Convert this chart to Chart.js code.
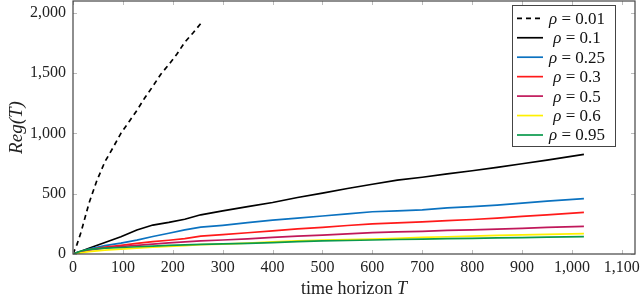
<!DOCTYPE html>
<html>
<head>
<meta charset="utf-8">
<script src="https://cdn.jsdelivr.net/npm/chart.js@4/dist/chart.umd.min.js"></script>
<style>
  html, body { margin: 0; padding: 0; background: #fff; }
  #wrap { width: 640px; height: 298px; }
</style>
</head>
<body>
<div id="wrap"><canvas id="regretChart"></canvas></div>
<script>
// ── Data ──────────────────────────────────────────────────────────────────
const T_DASH   = [0, 8, 16, 32, 48, 64, 80, 96, 112, 128, 144, 160, 176, 192, 208, 224, 240, 256];
const RHO_001  = [0, 80, 180, 420, 610, 765, 880, 1000, 1095, 1190, 1295, 1390, 1490, 1570, 1655, 1755, 1830, 1910];

const T        = [0, 16, 32, 64, 96, 128, 160, 192, 224, 256, 300, 350, 400, 450, 500, 550, 600, 650, 700, 750, 800, 850, 900, 950, 1024];
const RHO_01   = [0, 22, 48, 95, 143, 199, 240, 262, 288, 325, 358, 392, 427, 468, 505, 543, 578, 612, 636, 664, 690, 718, 748, 778, 825];
const RHO_025  = [0, 20, 40, 70, 90, 115, 145, 172, 200, 222, 238, 260, 280, 297, 315, 333, 350, 358, 366, 382, 392, 405, 422, 438, 459];
const RHO_03   = [0, 18, 35, 58, 72, 88, 102, 114, 128, 148, 160, 176, 192, 208, 221, 236, 249, 258, 267, 276, 286, 298, 312, 325, 345];
const RHO_05   = [0, 17, 32, 50, 62, 72, 82, 92, 100, 108, 116, 126, 138, 148, 157, 167, 177, 183, 188, 195, 200, 207, 213, 220, 229];
const RHO_06   = [0, 10, 20, 32, 40, 48, 56, 64, 70, 78, 82, 90, 100, 108, 116, 120, 124, 130, 137, 143, 148, 154, 158, 163, 169];
const RHO_095  = [0, 25, 38, 48, 54, 60, 66, 72, 76, 80, 84, 88, 95, 102, 108, 112, 116, 120, 123, 127, 130, 133, 136, 140, 144];

const LABELS   = ['0.01', '0.1', '0.25', '0.3', '0.5', '0.6', '0.95'];
const X_TICKS  = [0, 100, 200, 300, 400, 500, 600, 700, 800, 900, 1000, 1100];
const Y_TICKS  = [0, 500, 1000, 1500, 2000];
const X_MAX    = 1126.4;   // pgfplots enlarged limit (1024 * 1.1)
const Y_MAX    = 2097;

// ── Styling ───────────────────────────────────────────────────────────────
const FONT   = '"Liberation Serif", "Times New Roman", serif';
const FRAME  = '#444';
const COLORS = ['#000000', '#000000', '#0b72c0', '#ff1a1a', '#c0185a', '#fff000', '#0a9a4c'];

const xy = (xs, ys) => xs.map((x, i) => ({ x: x, y: ys[i] }));
const series = [
    xy(T_DASH, RHO_001), xy(T, RHO_01), xy(T, RHO_025), xy(T, RHO_03),
    xy(T, RHO_05), xy(T, RHO_06), xy(T, RHO_095),
];

const datasets = series.map((data, i) => ({
    label:       'ρ = ' + LABELS[i],
    data:        data,
    borderColor: COLORS[i],
    borderWidth: 1.7,
    borderDash:  i === 0 ? [5, 4] : [],
    pointRadius: 0,
    tension:     0,
    fill:        false,
    order:       series.length - i,
}));

// frame, inward tick marks, axis titles and the boxed legend
const decorations = {
    id: 'decorations',
    afterDraw(chart) {
        const { ctx, chartArea: a, scales: { x, y } } = chart;
        ctx.save();

        ctx.strokeStyle = '#bbb';
        ctx.lineWidth = 1;
        ctx.beginPath();
        x.ticks.forEach(t => {
            const px = Math.round(x.getPixelForValue(t.value)) + 0.5;
            ctx.moveTo(px, a.bottom); ctx.lineTo(px, a.bottom - 4);
            ctx.moveTo(px, a.top);    ctx.lineTo(px, a.top + 4);
        });
        y.ticks.forEach(t => {
            const py = Math.round(y.getPixelForValue(t.value)) + 0.5;
            ctx.moveTo(a.left, py);  ctx.lineTo(a.left + 4, py);
            ctx.moveTo(a.right, py); ctx.lineTo(a.right - 4, py);
        });
        ctx.stroke();

        ctx.strokeStyle = FRAME;
        ctx.lineWidth = 1.2;
        ctx.strokeRect(a.left, a.top, a.right - a.left, a.bottom - a.top);

        // axis titles
        ctx.fillStyle = '#222';
        ctx.textBaseline = 'middle';
        const xt1 = 'time horizon ', xt2 = 'T';
        ctx.font = '18px ' + FONT;
        const w1 = ctx.measureText(xt1).width;
        ctx.font = 'italic 18px ' + FONT;
        const w2 = ctx.measureText(xt2).width;
        let tx = (a.left + a.right) / 2 - (w1 + w2) / 2;
        ctx.textAlign = 'left';
        ctx.font = '18px ' + FONT;
        ctx.fillText(xt1, tx, 289);
        ctx.font = 'italic 18px ' + FONT;
        ctx.fillText(xt2, tx + w1, 289);

        ctx.save();
        ctx.translate(17, (a.top + a.bottom) / 2);
        ctx.rotate(-Math.PI / 2);
        ctx.textAlign = 'center';
        ctx.font = 'italic 19px ' + FONT;
        ctx.fillText('Reg(T)', 0, 0);
        ctx.restore();

        // legend
        const lx = 512, ly = 5, lw = 103, lh = 141, step = 19.45;
        ctx.fillStyle = '#fff';
        ctx.fillRect(lx, ly, lw, lh);
        ctx.strokeStyle = FRAME;
        ctx.lineWidth = 1;
        ctx.strokeRect(lx + 0.5, ly + 0.5, lw, lh);
        chart.data.datasets.forEach((ds, i) => {
            const cy = ly + 13.3 + i * step;
            ctx.strokeStyle = ds.borderColor;
            ctx.lineWidth = ds.borderWidth;
            ctx.setLineDash(ds.borderDash);
            ctx.beginPath();
            ctx.moveTo(lx + 5, cy); ctx.lineTo(lx + 31, cy);
            ctx.stroke();
            ctx.setLineDash([]);

            const rest = ' = ' + LABELS[i];
            ctx.font = 'italic 17px ' + FONT;
            const rw = ctx.measureText('ρ').width;
            ctx.font = '17px ' + FONT;
            const sw = ctx.measureText(rest).width;
            const sx = 577 - (rw + sw) / 2;
            ctx.fillStyle = '#111';
            ctx.textAlign = 'left';
            ctx.font = 'italic 17px ' + FONT;
            ctx.fillText('ρ', sx, cy + 1);
            ctx.font = '17px ' + FONT;
            ctx.fillText(rest, sx + rw, cy + 1);
        });

        ctx.restore();
    }
};

const fmt = v => Number(v).toLocaleString('en-US');

new Chart(document.getElementById('regretChart'), {
    type: 'line',
    data: { datasets: datasets },
    options: {
        responsive:          true,
        maintainAspectRatio: false,
        animation:           false,
        layout: { padding: { top: 1, right: 5, bottom: 0, left: 0 } },
        plugins: {
            legend:  { display: false },
            tooltip: { enabled: false },
        },
        scales: {
            x: {
                type: 'linear',
                min: 0,
                max: X_MAX,
                grid:   { display: false, drawTicks: false },
                border: { display: false },
                ticks: {
                    maxRotation: 0,
                    autoSkip: false,
                    padding: 4,
                    color: '#222',
                    font: { family: FONT, size: 16 },
                    callback: fmt,
                },
                afterBuildTicks: s => { s.ticks = X_TICKS.map(v => ({ value: v })); },
                afterFit: s => { s.height = 44; s.paddingLeft = 0; s.paddingRight = 0; },
            },
            y: {
                min: 0,
                max: Y_MAX,
                grid:   { display: false, drawTicks: false },
                border: { display: false },
                ticks: {
                    padding: 7,
                    autoSkip: false,
                    color: '#222',
                    font: { family: FONT, size: 16 },
                    callback: fmt,
                },
                afterBuildTicks: s => { s.ticks = Y_TICKS.map(v => ({ value: v })); },
                afterFit: s => { s.width = 73; s.paddingTop = 0; s.paddingBottom = 0; },
            },
        },
    },
    plugins: [decorations],
});
</script>
</body>
</html>
